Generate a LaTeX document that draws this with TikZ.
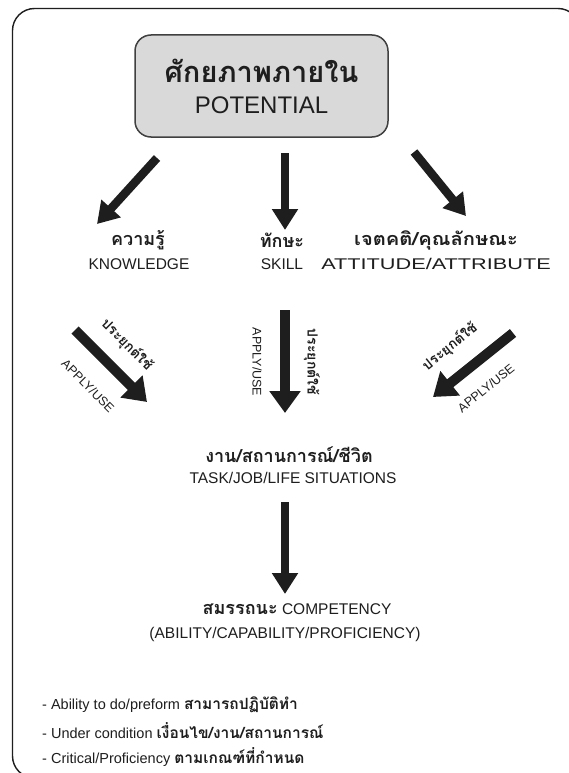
\documentclass[tikz,border=0pt]{standalone}
\usepackage{fontspec}
\setmainfont{Liberation Sans}
\newfontfamily\thai[Script=Thai]{Loma}
\usetikzlibrary{arrows.meta}
\definecolor{ink}{HTML}{1E1E1E}
\definecolor{boxfill}{HTML}{D9D9D9}
\begin{document}
\begin{tikzpicture}[x=1pt,y=-1pt,
  arr/.style={line width=8.5pt, -{Triangle[length=21pt,width=25pt]}, draw=ink},
  aarr/.style={line width=10pt, -{Triangle[length=22pt,width=30pt]}, draw=ink},
  th/.style={font=\thai\bfseries\fontsize{18}{20}\selectfont, text=ink, inner sep=1pt},
  en/.style={font=\fontsize{15.5}{18}\selectfont, text=ink, inner sep=1pt},
  lab/.style={font=\fontsize{12.5}{14}\selectfont, text=ink, inner sep=1pt},
  labth/.style={font=\thai\bfseries\fontsize{14}{16}\selectfont, text=ink, inner sep=1pt},
  bul/.style={font=\fontsize{14.5}{16}\selectfont, text=ink, inner sep=0pt, anchor=west},
]
\newcommand{\thb}{\thai\bfseries\fontsize{15.5}{16}\selectfont}
\useasboundingbox (0,0) rectangle (569,773);
\clip (0,0) rectangle (569,773);
\fill[white] (0,0) rectangle (569,773);
\draw[line width=1.4pt, rounded corners=22pt, ink] (12.5,8.5) rectangle (580,778);

% top box
\node[draw=black!75, line width=1.5pt, fill=boxfill, rounded corners=16pt,
      minimum width=253pt, minimum height=102pt, align=center, text=ink,
      font=\fontsize{24}{31}\selectfont] (pot) at (261.5,86)
      {{\thai\bfseries\fontsize{29}{31}\selectfont ศักยภาพภายใน}\\POTENTIAL};

% arrow end points
\coordinate (k1) at (157,158); \coordinate (k2) at (97,224);
\coordinate (s1) at (285,153); \coordinate (s2) at (285,230);
\coordinate (a1) at (414,152); \coordinate (a2) at (466,216);
\draw[arr] (k1) -- (k2);
\draw[arr] (s1) -- (s2);
\draw[arr] (a1) -- (a2);

% three components
\node[th] (kth) at (138,240) {ความรู้};
\node[en] (ken) at (139,264) {KNOWLEDGE};
\node[th] (sth) at (282,240) {ทักษะ};
\node[en] (sen) at (282,264) {SKILL};
\node[th] (ath) at (436,240) {\scalebox{1.12}[1]{เจตคติ/คุณลักษณะ}};
\node[en] (aen) at (436,264) {\scalebox{1.4}[1]{ATTITUDE/ATTRIBUTE}};

% apply arrows
\coordinate (l1) at (75,330); \coordinate (l2) at (147,402);
\coordinate (m1) at (285,310); \coordinate (m2) at (285,413);
\coordinate (r1) at (513,333); \coordinate (r2) at (433,397);
\draw[aarr] (l1) -- (l2);
\draw[aarr] (m1) -- (m2);
\draw[aarr] (r1) -- (r2);

\node[labth, rotate=-45] (lth) at (127,345) {ประยุกต์ใช้};
\node[lab, rotate=-45] (len) at (88,386) {APPLY/USE};
\node[lab, rotate=-90] (men) at (257,362) {APPLY/USE};
\node[labth, rotate=-90] (mth) at (312,362) {ประยุกต์ใช้};
\node[labth, rotate=39] (rth) at (450,347) {ประยุกต์ใช้};
\node[lab, rotate=39] (ren) at (486,388) {APPLY/USE};

% task
\node[th] (tth) at (289,455) {งาน/สถานการณ์/ชีวิต};
\node[en] (ten) at (293,478) {TASK/JOB/LIFE SITUATIONS};

\coordinate (c1) at (285,502); \coordinate (c2) at (285,594);
\draw[arr] (c1) -- (c2);

\node[en] (comp) at (297,609) {{\thai\bfseries\fontsize{18}{20}\selectfont สมรรถนะ} COMPETENCY};
\node[en] (abil) at (285,634) {(ABILITY/CAPABILITY/PROFICIENCY)};

% bullets
\node[bul] (b1) at (42,705) {- Ability to do/preform {\thb สามารถปฏิบัติทำ}};
\node[bul] (b2) at (42,731) {- Under condition {\thb เงื่อนไข/งาน/สถานการณ์}};
\node[bul] (b3) at (42,757) {- Critical/Proficiency {\thb ตามเกณฑ์ที่กำหนด}};
\end{tikzpicture}
\end{document}
